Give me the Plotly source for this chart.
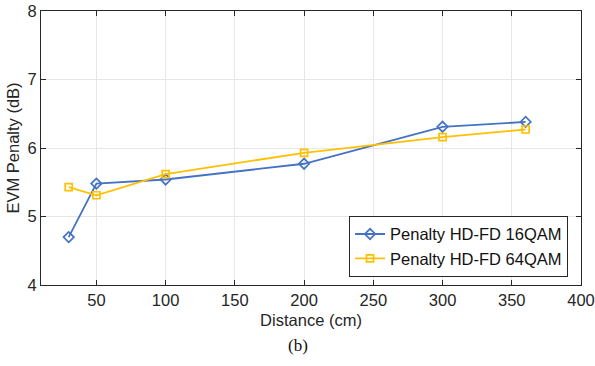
import plotly.graph_objects as go

distance = [30, 50, 100, 200, 300, 360]
penalty_16qam = [4.70, 5.48, 5.54, 5.77, 6.31, 6.38]
penalty_64qam = [5.43, 5.31, 5.62, 5.93, 6.16, 6.27]
x_ticks = [50, 100, 150, 200, 250, 300, 350, 400]
y_ticks = [4, 5, 6, 7, 8]

fig = go.Figure()
fig.add_trace(go.Scatter(
    x=distance, y=penalty_16qam, mode="lines+markers",
    name="Penalty HD-FD 16QAM",
    line=dict(color="#4472C4", width=1.8),
    marker=dict(symbol="diamond-open", size=8, color="#4472C4", line=dict(width=1.7)),
))
fig.add_trace(go.Scatter(
    x=distance, y=penalty_64qam, mode="lines+markers",
    name="Penalty HD-FD 64QAM",
    line=dict(color="#FFC000", width=1.8),
    marker=dict(symbol="square-open", size=7, color="#FFC000", line=dict(width=1.7)),
))

axis_common = dict(
    showgrid=True, gridcolor="#E6E6E6", gridwidth=1,
    showline=True, linecolor="#262626", linewidth=1, mirror="allticks",
    ticks="inside", ticklen=5, tickcolor="#262626",
    tickfont=dict(family="Liberation Sans, Arial", size=16.5, color="#262626"),
    zeroline=False, automargin=False, ticklabeloverflow="allow",
)

fig.update_layout(
    width=595, height=366,
    margin=dict(l=41, r=14, t=11, b=81),
    paper_bgcolor="white", plot_bgcolor="white",
    font=dict(family="Liberation Sans, Arial", size=16.5, color="#262626"),
    xaxis=dict(range=[10, 400], tickvals=x_ticks,
               title=dict(text="Distance (cm)", font=dict(size=16.5), standoff=6),
               **axis_common),
    yaxis=dict(range=[4, 8], tickvals=y_ticks,
               title=dict(text="EVM Penalty (dB)", font=dict(size=16.5), standoff=3),
               **axis_common),
    legend=dict(x=0.976, y=0.03, xanchor="right", yanchor="bottom",
                bgcolor="white", bordercolor="#262626", borderwidth=1,
                font=dict(size=16.5, color="#111111"),
                tracegroupgap=0, itemwidth=30),
    showlegend=True,
)
fig.add_annotation(text="(b)", xref="paper", yref="paper", x=0.475, y=-0.22,
                   xanchor="center", yanchor="middle", showarrow=False,
                   font=dict(family="Liberation Serif, Times New Roman", size=17, color="#111111"))

fig.write_html("out.html", config={"displayModeBar": False},
               post_script="document.body.style.margin='0';document.body.style.overflow='hidden';")
